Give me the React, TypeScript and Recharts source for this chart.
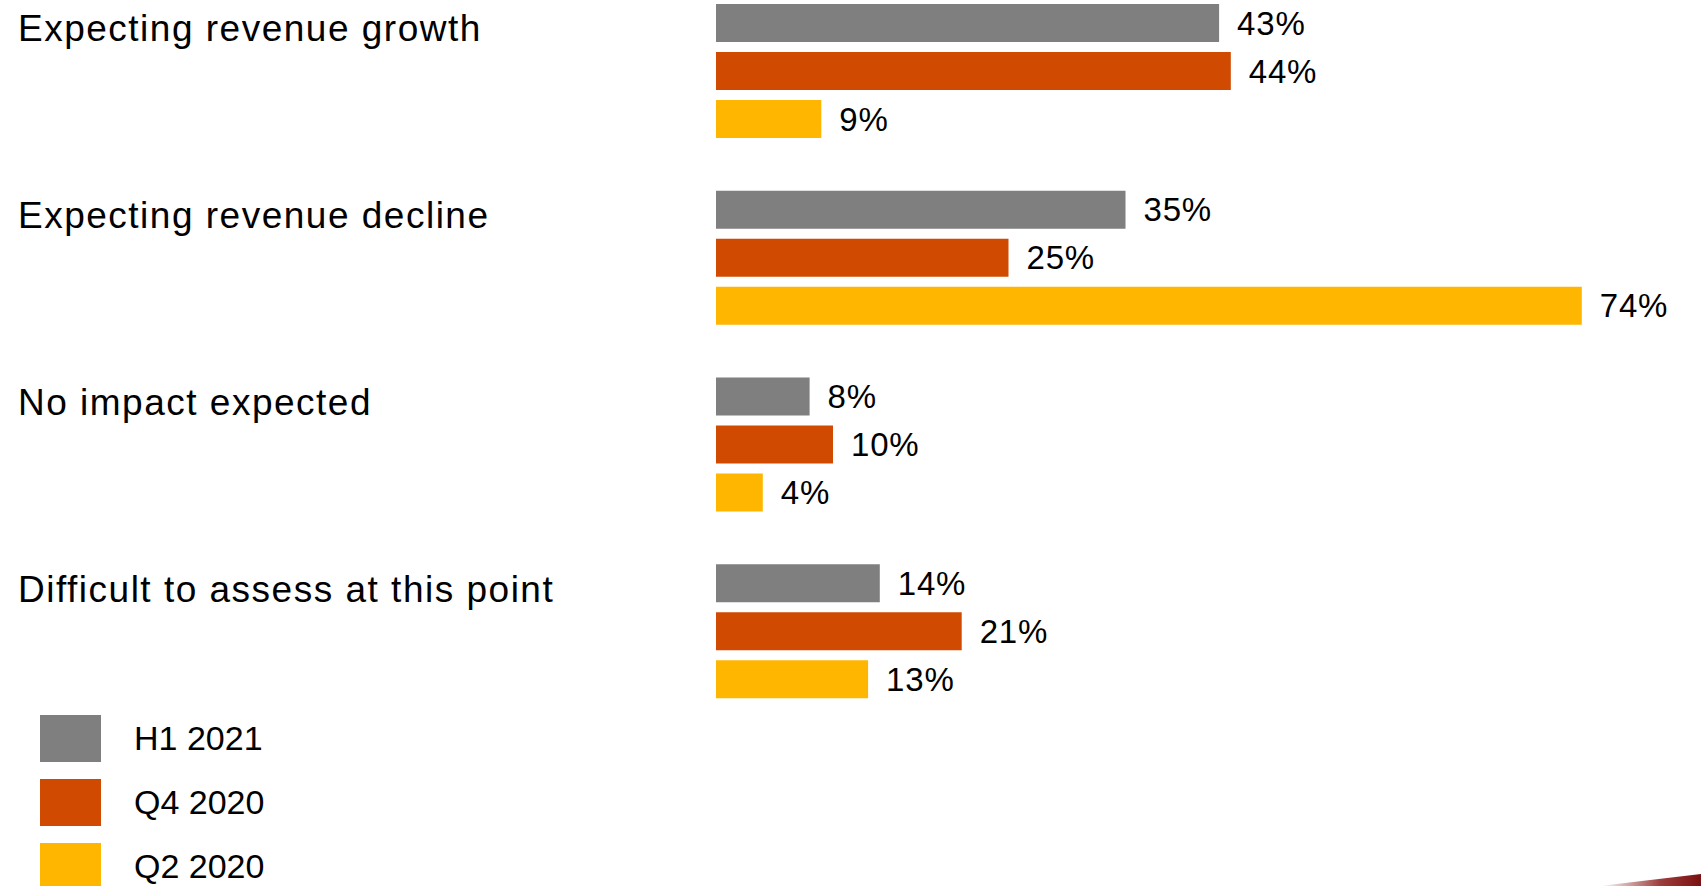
import React from 'react';
import { BarChart, Bar, XAxis, YAxis, LabelList, Legend, Customized } from 'recharts';

const categories = [
  'Expecting revenue growth',
  'Expecting revenue decline',
  'No impact expected',
  'Difficult to assess at this point',
];
const seriesNames = ['H1 2021', 'Q4 2020', 'Q2 2020'];
const seriesKeys = ['h1_2021', 'q4_2020', 'q2_2020'];
const seriesColors = ['#7F7F7F', '#D04A02', '#FFB600'];
const h1_2021 = [43, 35, 8, 14];
const q4_2020 = [44, 25, 10, 21];
const q2_2020 = [9, 74, 4, 13];

const data = categories.map((c, i) => ({
  category: c,
  h1_2021: h1_2021[i],
  q4_2020: q4_2020[i],
  q2_2020: q2_2020[i],
}));

const FONT = '"Liberation Sans", Arial, Helvetica, sans-serif';

const CategoryTick = (props: any) => {
  const { y, payload } = props;
  return (
    <text x={18} y={y - 30} fontSize={37} letterSpacing={1.5} fontFamily={FONT} fill="#000" textAnchor="start">
      {payload.value}
    </text>
  );
};

const LegendContent = () => (
  <div style={{ display: 'flex', flexDirection: 'column', gap: 17, width: 'max-content' }}>
    {seriesNames.map((n, i) => (
      <div key={n} style={{ display: 'flex', alignItems: 'center', height: 47 }}>
        <div style={{ width: 61, height: 47, background: seriesColors[i] }} />
        <span style={{ marginLeft: 33, fontSize: 34, fontFamily: FONT, color: '#000', whiteSpace: 'nowrap' }}>{n}</span>
      </div>
    ))}
  </div>
);

const Swoosh = () => (
  <g>
    <defs>
      <linearGradient id="swooshGrad" x1="0" y1="0" x2="1" y2="0">
        <stop offset="0%" stopColor="#8B1A1A" stopOpacity={0} />
        <stop offset="60%" stopColor="#8B1A1A" stopOpacity={0.85} />
        <stop offset="100%" stopColor="#7A1010" stopOpacity={1} />
      </linearGradient>
    </defs>
    <path d="M1600,886 Q1650,880 1701,874 L1701,886 Z" fill="url(#swooshGrad)" />
  </g>
);

export default function App() {
  return (
    <div style={{ position: 'absolute', left: 0, top: 0, width: 1701, height: 886, background: '#fff' }}>
      <BarChart
        width={1701}
        height={886}
        data={data}
        layout="vertical"
        margin={{ top: -22, right: 49, bottom: 161, left: 0 }}
        barSize={38}
        barGap={10}
      >
        <XAxis type="number" domain={[0, 80]} hide />
        <YAxis
          type="category"
          dataKey="category"
          width={716}
          axisLine={false}
          tickLine={false}
          tick={<CategoryTick />}
          interval={0}
        />
        {seriesKeys.map((k, i) => (
          <Bar key={k} dataKey={k} name={seriesNames[i]} fill={seriesColors[i]} isAnimationActive={false}>
            <LabelList
              dataKey={k}
              position="right"
              offset={18}
              formatter={(v: any) => `${v}%`}
              fill="#000"
              fontSize={33}
              letterSpacing={0.8}
              fontFamily={FONT}
            />
          </Bar>
        ))}
        <Legend
          content={<LegendContent />}
          wrapperStyle={{ left: 40, top: 715, bottom: 'auto', width: 0, height: 0, overflow: 'visible' }}
        />
        <Customized component={<Swoosh />} />
      </BarChart>
    </div>
  );
}
